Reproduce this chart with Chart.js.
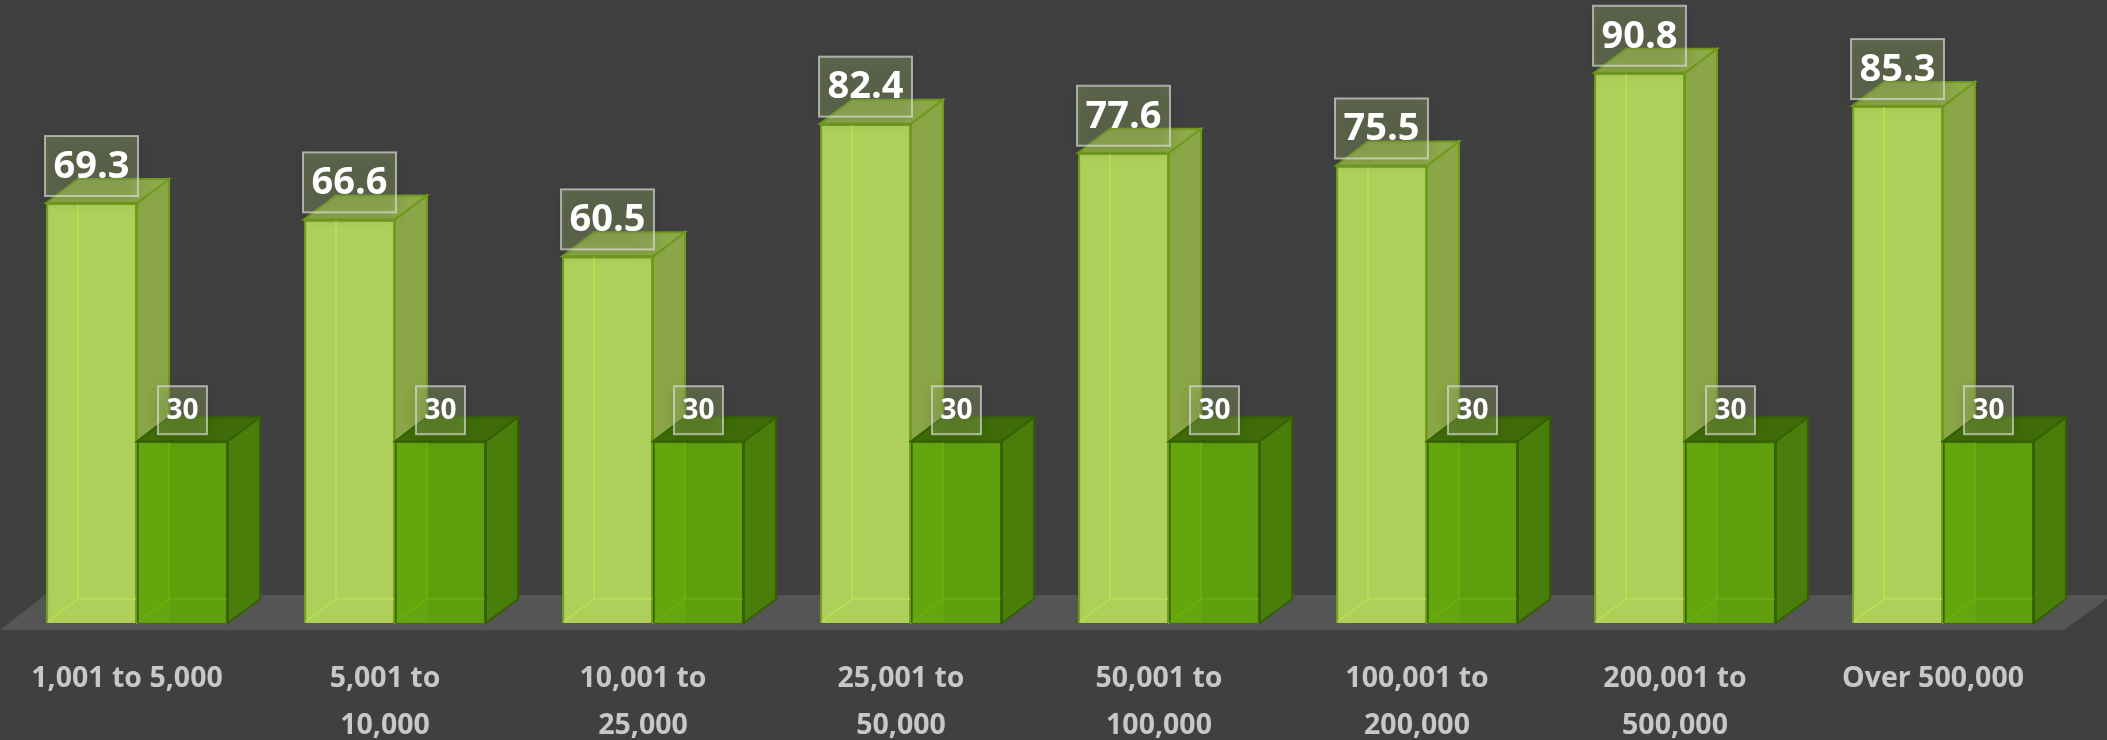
<!DOCTYPE html>
<html>
<head>
<meta charset="utf-8">
<script src="https://cdn.jsdelivr.net/npm/chart.js@4.4.1/dist/chart.umd.min.js"></script>
<style>
  html, body { margin: 0; padding: 0; background: #404040; }
  #wrap { width: 2107px; height: 740px; position: relative; }
</style>
</head>
<body>
<div id="wrap"><canvas id="chart"></canvas></div>
<script>
// population bands and the two series
const categories = [
  '1,001 to 5,000',
  ['5,001 to', '10,000'],
  ['10,001 to', '25,000'],
  ['25,001 to', '50,000'],
  ['50,001 to', '100,000'],
  ['100,001 to', '200,000'],
  ['200,001 to', '500,000'],
  'Over 500,000'
];
const actualValues = [69.3, 66.6, 60.5, 82.4, 77.6, 75.5, 90.8, 85.3];
const targetValues = [30, 30, 30, 30, 30, 30, 30, 30];

// depth of the fake 3d boxes
const DX = 32, DY = -24;

const faceColors = [
  { side: '#8ba646', top: '#8ea94a', edge: '#6f9a1c', inner: 'rgba(195,240,70,0.55)', strip: null },
  { side: '#4a7e0b', top: '#3f6c08', edge: '#356102', inner: 'rgba(120,190,20,0.45)', strip: 'rgba(120,190,15,0.22)' }
];
const labelSize = [38, 28];

function drawFaces(ctx, bar, c) {
  const l = bar.x - bar.width / 2, r = bar.x + bar.width / 2;
  const t = bar.y, b = bar.base;

  if (c.strip) {
    ctx.fillStyle = c.strip;
    ctx.fillRect(l + 1, t + 1, DX, b - t - 2);
  }
  // back edges showing through the front
  ctx.strokeStyle = c.inner;
  ctx.lineWidth = 1.5;
  ctx.beginPath();
  ctx.moveTo(l + DX, t + 1);
  ctx.lineTo(l + DX, b + DY);
  ctx.lineTo(r - 1, b + DY);
  ctx.moveTo(l + 1, b - 1);
  ctx.lineTo(l + DX, b + DY);
  ctx.stroke();

  ctx.lineWidth = 2;
  ctx.strokeStyle = c.edge;
  // side
  ctx.fillStyle = c.side;
  ctx.beginPath();
  ctx.moveTo(r, t);
  ctx.lineTo(r + DX, t + DY);
  ctx.lineTo(r + DX, b + DY);
  ctx.lineTo(r, b);
  ctx.closePath();
  ctx.fill();
  ctx.stroke();
  // top
  ctx.fillStyle = c.top;
  ctx.beginPath();
  ctx.moveTo(l, t);
  ctx.lineTo(l + DX, t + DY);
  ctx.lineTo(r + DX, t + DY);
  ctx.lineTo(r, t);
  ctx.closePath();
  ctx.fill();
  ctx.stroke();
}

const box3d = {
  id: 'box3d',
  beforeDatasetsDraw(chart) {
    const { ctx, chartArea, scales } = chart;
    const base = scales.y.getPixelForValue(0);
    // floor
    ctx.save();
    ctx.fillStyle = '#555555';
    ctx.beginPath();
    ctx.moveTo(chartArea.left - 8, base + 7);
    ctx.lineTo(chartArea.left + 37, base - 28);
    ctx.lineTo(chartArea.right + 40, base - 28);
    ctx.lineTo(chartArea.right - 8, base + 7);
    ctx.closePath();
    ctx.fill();
    ctx.restore();
  },
  afterDatasetsDraw(chart) {
    const ctx = chart.ctx;
    const light = chart.getDatasetMeta(0).data;
    const dark = chart.getDatasetMeta(1).data;
    ctx.save();
    light.forEach(bar => drawFaces(ctx, bar, faceColors[0]));
    dark.forEach(bar => {
      bar.draw(ctx);
      drawFaces(ctx, bar, faceColors[1]);
    });
    ctx.restore();
  },
  afterDraw(chart) {
    const ctx = chart.ctx;
    chart.data.datasets.forEach((ds, i) => {
      const size = labelSize[i];
      chart.getDatasetMeta(i).data.forEach((bar, j) => {
        const txt = String(ds.data[j]);
        ctx.save();
        ctx.font = 'bold ' + size + 'px "Open Sans"';
        const w = ctx.measureText(txt).width + 17;
        const h = size + (i === 0 ? 22 : 20);
        const x0 = bar.x - w / 2, y0 = bar.y - 7 - h;
        ctx.shadowColor = 'rgba(0,0,0,0.45)';
        ctx.shadowBlur = 14;
        ctx.shadowOffsetY = 3;
        ctx.fillStyle = 'rgba(160,185,110,0.32)';
        ctx.fillRect(x0, y0, w, h);
        ctx.shadowColor = 'transparent';
        ctx.strokeStyle = 'rgba(225,225,225,0.65)';
        ctx.lineWidth = 2;
        ctx.strokeRect(x0, y0, w, h);
        ctx.fillStyle = '#ffffff';
        ctx.textAlign = 'center';
        ctx.textBaseline = 'middle';
        ctx.fillText(txt, bar.x, y0 + h / 2 + 1);
        ctx.restore();
      });
    });
  }
};

new Chart(document.getElementById('chart'), {
  type: 'bar',
  data: {
    labels: categories,
    datasets: [
      { label: 'Actual', data: actualValues, backgroundColor: '#aecf5a', borderColor: '#72a01e', borderWidth: 2 },
      { label: 'Target', data: targetValues, backgroundColor: '#5f9f0d', borderColor: '#386402', borderWidth: 2 }
    ]
  },
  options: {
    responsive: true,
    maintainAspectRatio: false,
    animation: false,
    categoryPercentage: 0.705,
    barPercentage: 1,
    layout: { padding: { left: 8, right: 35, top: 17, bottom: 0 } },
    plugins: { legend: { display: false }, tooltip: { enabled: false } },
    scales: {
      x: {
        grid: { display: false, drawTicks: false },
        border: { display: false },
        ticks: {
          color: '#c8c8c8',
          font: { family: 'Open Sans', size: 28.5, weight: 'bold', lineHeight: 1.66 },
          padding: 32,
          labelOffset: -10,
          maxRotation: 0,
          autoSkip: false
        },
        afterFit(scale) { scale.height = 117; }
      },
      y: { display: false, min: 0, max: 100 }
    }
  },
  plugins: [box3d]
});
</script>
</body>
</html>
